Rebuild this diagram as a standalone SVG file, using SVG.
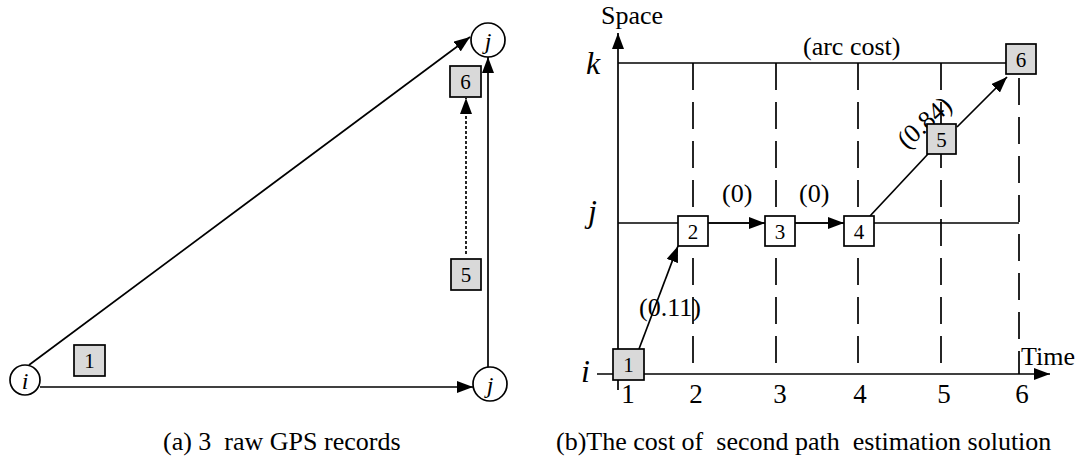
<svg xmlns="http://www.w3.org/2000/svg" width="1080" height="463" viewBox="0 0 1080 463">
<style>
text{font-family:"Liberation Serif","Times New Roman",serif;fill:#000}
.lbl{font-size:26px}
.num{font-size:21px;text-anchor:middle}
.ax{font-size:27px;text-anchor:middle}
.it{font-style:italic}
.ln{stroke:#000;stroke-width:1.7;fill:none}
.dash{stroke:#000;stroke-width:1.7;fill:none;stroke-dasharray:27 12}
.dot{stroke:#000;stroke-width:1.7;fill:none;stroke-dasharray:3 2}
.g{fill:#d9d9d9;stroke:#000;stroke-width:1.7}
.w{fill:#fff;stroke:#000;stroke-width:1.7}
.c{fill:#fff;stroke:#000;stroke-width:1.7}
</style>
<defs>
<marker id="ah" viewBox="0 0 16 12" refX="16" refY="6" markerWidth="16" markerHeight="12" markerUnits="userSpaceOnUse" orient="auto">
<path d="M0,0 L16,6 L0,12 z" fill="#000"/>
</marker>
</defs>
<rect width="1080" height="463" fill="#fff"/>

<!-- Panel (a) connectors -->
<g id="connectors-a">
<line class="ln" x1="29" y1="365" x2="470" y2="37" marker-end="url(#ah)"/>
<line class="ln" x1="40" y1="387" x2="473" y2="387" marker-end="url(#ah)"/>
<line class="ln" x1="488" y1="367" x2="488" y2="57" marker-end="url(#ah)"/>
<line class="dot" x1="466" y1="254" x2="466" y2="98" marker-end="url(#ah)"/>
</g>

<g id="a-node-i"><circle class="c" cx="25" cy="380" r="15"/><text class="it" x="25" y="389" font-size="24" text-anchor="middle">i</text></g>
<g id="a-node-j-bottom"><circle class="c" cx="490" cy="384" r="17"/><text class="it" x="490" y="393" font-size="24" text-anchor="middle">j</text></g>
<g id="a-node-j-top"><circle class="c" cx="488" cy="40" r="17"/><text class="it" x="488" y="49" font-size="24" text-anchor="middle">j</text></g>
<g id="a-rec1"><rect class="g" x="74" y="345" width="31" height="31"/><text class="num" x="89.5" y="368">1</text></g>
<g id="a-rec5"><rect class="g" x="451" y="259" width="30" height="31"/><text class="num" x="466" y="282">5</text></g>
<g id="a-rec6"><rect class="g" x="450" y="66" width="31" height="31"/><text class="num" x="465.5" y="89">6</text></g>
<text class="lbl" x="163" y="450" xml:space="preserve">(a) 3  raw GPS records</text>

<!-- Panel (b) grid and axes -->
<g id="grid-b">
<line class="ln" x1="618" y1="63" x2="1006" y2="63"/>
<line class="ln" x1="618" y1="223" x2="1019" y2="223"/>
<line class="dash" x1="693" y1="63" x2="693" y2="374"/>
<line class="dash" x1="776" y1="63" x2="776" y2="374"/>
<line class="dash" x1="858" y1="63" x2="858" y2="374"/>
<line class="dash" x1="941" y1="63" x2="941" y2="374"/>
<line class="dash" x1="1019" y1="78" x2="1019" y2="374"/>
<line class="ln" x1="618" y1="374" x2="618" y2="33" marker-end="url(#ah)"/>
<line class="ln" x1="597" y1="374" x2="1050" y2="374" marker-end="url(#ah)"/>
<line class="ln" x1="618" y1="380" x2="618" y2="390"/>
</g>
<text class="lbl" x="601" y="24">Space</text>
<text class="lbl" x="1021" y="365">Time</text>
<text class="lbl" x="803" y="55">(arc cost)</text>
<text class="it" x="586" y="74" font-size="32">k</text>
<text class="it" x="588" y="222" font-size="32">j</text>
<text class="it" x="581" y="382" font-size="32">i</text>
<g id="axis-numbers">
<text class="ax" x="628" y="403">1</text>
<text class="ax" x="696" y="403">2</text>
<text class="ax" x="780" y="403">3</text>
<text class="ax" x="860" y="403">4</text>
<text class="ax" x="944" y="403">5</text>
<text class="ax" x="1022" y="403">6</text>
</g>

<!-- Panel (b) connectors -->
<g id="connectors-b">
<line class="ln" x1="639" y1="349" x2="678" y2="246" marker-end="url(#ah)"/>
<line class="ln" x1="708" y1="223" x2="765" y2="223" marker-end="url(#ah)"/>
<line class="ln" x1="795" y1="223" x2="844" y2="223" marker-end="url(#ah)"/>
<line class="ln" x1="870" y1="216" x2="928" y2="154"/>
<line class="ln" x1="957" y1="127" x2="1007" y2="77" marker-end="url(#ah)"/>
</g>
<text class="lbl" x="639" y="316">(0.11)</text>
<text class="lbl" x="722" y="202">(0)</text>
<text class="lbl" x="799" y="202">(0)</text>
<text class="lbl" transform="translate(924,122) rotate(-42)" x="0" y="9" text-anchor="middle">(0.84)</text>

<g id="b-rec1"><rect class="g" x="613" y="349" width="31" height="31"/><text class="num" x="628.5" y="372">1</text></g>
<g id="b-rec2"><rect class="w" x="678" y="216" width="30" height="30"/><text class="num" x="693" y="238.5">2</text></g>
<g id="b-rec3"><rect class="w" x="765" y="216" width="30" height="30"/><text class="num" x="780" y="238.5">3</text></g>
<g id="b-rec4"><rect class="w" x="844" y="216" width="30" height="30"/><text class="num" x="859" y="238.5">4</text></g>
<g id="b-rec5"><rect class="g" x="927" y="124" width="29" height="30"/><text class="num" x="941.5" y="146.5">5</text></g>
<g id="b-rec6"><rect class="g" x="1006" y="44" width="30" height="30"/><text class="num" x="1021" y="66.5">6</text></g>
<text class="lbl" x="556" y="450" xml:space="preserve">(b)The cost of  second path  estimation solution</text>
</svg>
